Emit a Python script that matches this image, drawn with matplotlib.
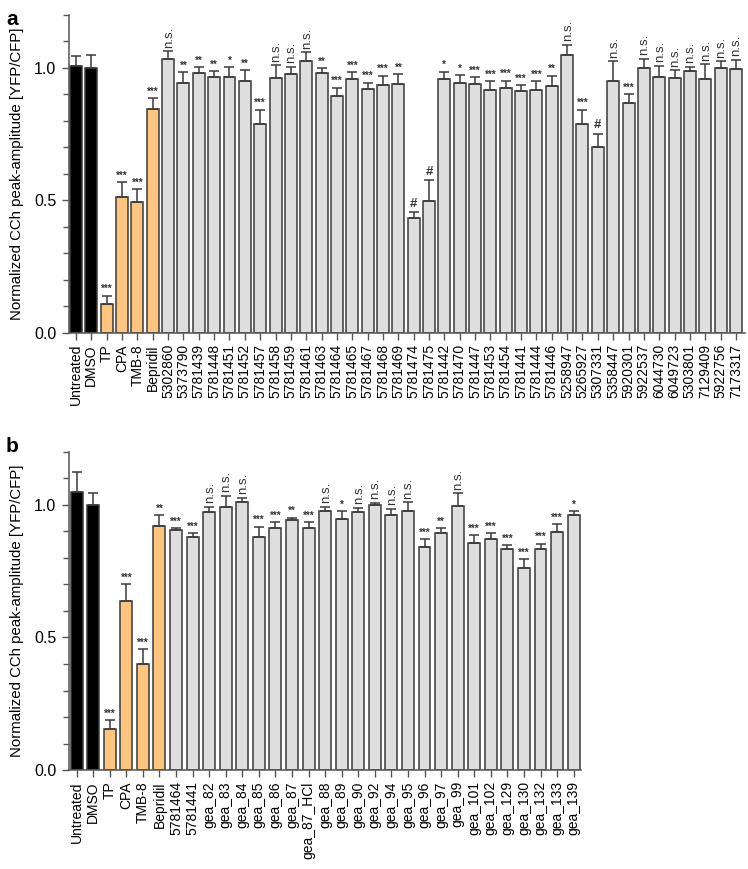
import matplotlib
matplotlib.use("Agg")
import matplotlib.pyplot as plt
import numpy as np

plt.rcParams['font.family'] = ['Liberation Sans', 'DejaVu Sans']

# panel a
labels_a = ["Untreated", "DMSO", "TP", "CPA", "TMB-8", "Bepridil",
            "5302860", "5373790", "5781439", "5781448", "5781451", "5781452",
            "5781457", "5781458", "5781459", "5781461", "5781463", "5781464",
            "5781465", "5781467", "5781468", "5781469", "5781474", "5781475",
            "5781442", "5781470", "5781447", "5781453", "5781454", "5781441",
            "5781444", "5781446", "5258947", "5265927", "5307331", "5358447",
            "5920301", "5922537", "6044730", "6049723", "5303801", "7129409",
            "5922756", "7173317"]
values_a = [1.009, 1.0, 0.109, 0.512, 0.494, 0.845,
            1.035, 0.943, 0.980, 0.965, 0.967, 0.952,
            0.789, 0.961, 0.979, 1.028, 0.981, 0.894,
            0.958, 0.922, 0.935, 0.941, 0.435, 0.498,
            0.958, 0.942, 0.941, 0.916, 0.923, 0.913,
            0.916, 0.932, 1.047, 0.790, 0.702, 0.952,
            0.868, 1.000, 0.967, 0.961, 0.987, 0.957,
            0.999, 0.996]
errors_a = [0.035, 0.050, 0.032, 0.058, 0.049, 0.040,
            0.029, 0.041, 0.024, 0.024, 0.037, 0.039,
            0.054, 0.049, 0.025, 0.032, 0.018, 0.032,
            0.026, 0.023, 0.036, 0.035, 0.020, 0.078,
            0.028, 0.030, 0.023, 0.035, 0.029, 0.022,
            0.034, 0.039, 0.041, 0.053, 0.050, 0.073,
            0.032, 0.034, 0.041, 0.031, 0.017, 0.057,
            0.027, 0.035]
signif_a = ["", "", "***", "***", "***", "***",
            "n.s.", "**", "**", "**", "*", "**",
            "***", "n.s.", "n.s.", "n.s.", "**", "***",
            "***", "***", "***", "**", "#", "#",
            "*", "*", "***", "***", "***", "***",
            "***", "**", "n.s.", "***", "#", "n.s.",
            "***", "n.s.", "n.s.", "n.s.", "n.s.", "n.s.",
            "n.s.", "n.s."]

# panel b
labels_b = ["Untreated", "DMSO", "TP", "CPA", "TMB-8", "Bepridil",
            "5781464", "5781441", "gea_82", "gea_83", "gea_84", "gea_85",
            "gea_86", "gea_87", "gea_87_HCl", "gea_88", "gea_89", "gea_90",
            "gea_92", "gea_94", "gea_95", "gea_96", "gea_97", "gea_99",
            "gea_101", "gea_102", "gea_129", "gea_130", "gea_132", "gea_133",
            "gea_139"]
values_b = [1.050, 1.000, 0.153, 0.639, 0.399, 0.922,
            0.906, 0.878, 0.974, 0.991, 1.011, 0.881,
            0.912, 0.943, 0.912, 0.976, 0.947, 0.972,
            1.000, 0.961, 0.976, 0.840, 0.894, 0.997,
            0.857, 0.872, 0.833, 0.764, 0.835, 0.899,
            0.964]
errors_b = [0.076, 0.044, 0.036, 0.063, 0.056, 0.040,
            0.006, 0.015, 0.020, 0.043, 0.017, 0.037,
            0.023, 0.009, 0.023, 0.018, 0.030, 0.018,
            0.009, 0.024, 0.035, 0.032, 0.018, 0.047,
            0.029, 0.022, 0.015, 0.033, 0.019, 0.028,
            0.013]
signif_b = ["", "", "***", "***", "***", "**",
            "***", "***", "n.s.", "n.s.", "n.s.", "***",
            "***", "**", "***", "n.s.", "*", "n.s.",
            "n.s.", "n.s.", "n.s.", "***", "**", "n.s.",
            "***", "***", "***", "***", "***", "***",
            "*"]

n_black = 2
n_orange = 4


def draw_panel(ax, labels, values, errors, signif, width):
    x = np.arange(len(labels))
    colors = []
    for i in range(len(labels)):
        if i < n_black:
            colors.append("black")
        elif i < n_black + n_orange:
            colors.append("#FEC57F")
        else:
            colors.append("#DEDEDE")
    ax.bar(x, values, width=width, color=colors, edgecolor="#3a3a3a",
           linewidth=1.1, zorder=2)
    ax.errorbar(x, values, yerr=[np.zeros(len(values)), errors], fmt="none",
                ecolor="#3a3a3a", elinewidth=1.1, capsize=3.5, capthick=1.1,
                zorder=3)

    for xi, v, e, s in zip(x, values, errors, signif):
        top = v + e
        if s == "n.s.":
            ax.annotate(s, (xi, top), xytext=(0.5, 2.5), textcoords="offset points",
                        ha="center", va="bottom", rotation=90, fontsize=9.5,
                        color="#333333")
        elif s == "#":
            ax.annotate(s, (xi, top), xytext=(0, 2), textcoords="offset points",
                        ha="center", va="bottom", fontsize=9.5, fontweight="bold",
                        color="#333333")
        elif s:
            ax.annotate(s, (xi, top), xytext=(0, 1), textcoords="offset points",
                        ha="center", va="bottom", fontsize=7, fontweight="bold",
                        color="#333333")

    ax.set_xticks(x)
    ax.set_xticklabels(labels, rotation=90, fontsize=10)
    ax.set_ylim(0, 1.2)
    ax.set_yticks([0.0, 0.5, 1.0])
    ax.set_yticklabels(["0.0", "0.5", "1.0"], fontsize=11.5)
    ax.set_yticks(np.arange(0, 1.21, 0.1), minor=True)
    ax.tick_params(axis="y", which="major", length=5, width=1, color="#555555", pad=4)
    ax.tick_params(axis="y", which="minor", length=4, width=1, color="#555555")
    ax.tick_params(axis="x", length=5, width=1, color="#555555", pad=3)
    for side in ["top", "right"]:
        ax.spines[side].set_visible(False)
    for side in ["left", "bottom"]:
        ax.spines[side].set_color("#555555")
        ax.spines[side].set_linewidth(1.1)
    ax.set_ylabel("Normalized CCh peak-amplitude [YFP/CFP]", fontsize=10.8, labelpad=7)


fig = plt.figure(figsize=(7.48, 8.69), dpi=100)

ax_a = fig.add_axes([0.0922, 0.6168, 0.904, 0.366])
draw_panel(ax_a, labels_a, values_a, errors_a, signif_a, 0.78)
ax_a.set_xlim(-0.46, len(labels_a) - 0.4)

ax_b = fig.add_axes([0.0922, 0.1139, 0.684, 0.366])
draw_panel(ax_b, labels_b, values_b, errors_b, signif_b, 0.72)
ax_b.set_xlim(-0.46, len(labels_b) - 0.58)

fig.text(0.008, 0.988, "a", fontsize=15, fontweight="bold", va="top")
fig.text(0.008, 0.497, "b", fontsize=15, fontweight="bold", va="top")

fig.savefig("out.png", dpi=100)
